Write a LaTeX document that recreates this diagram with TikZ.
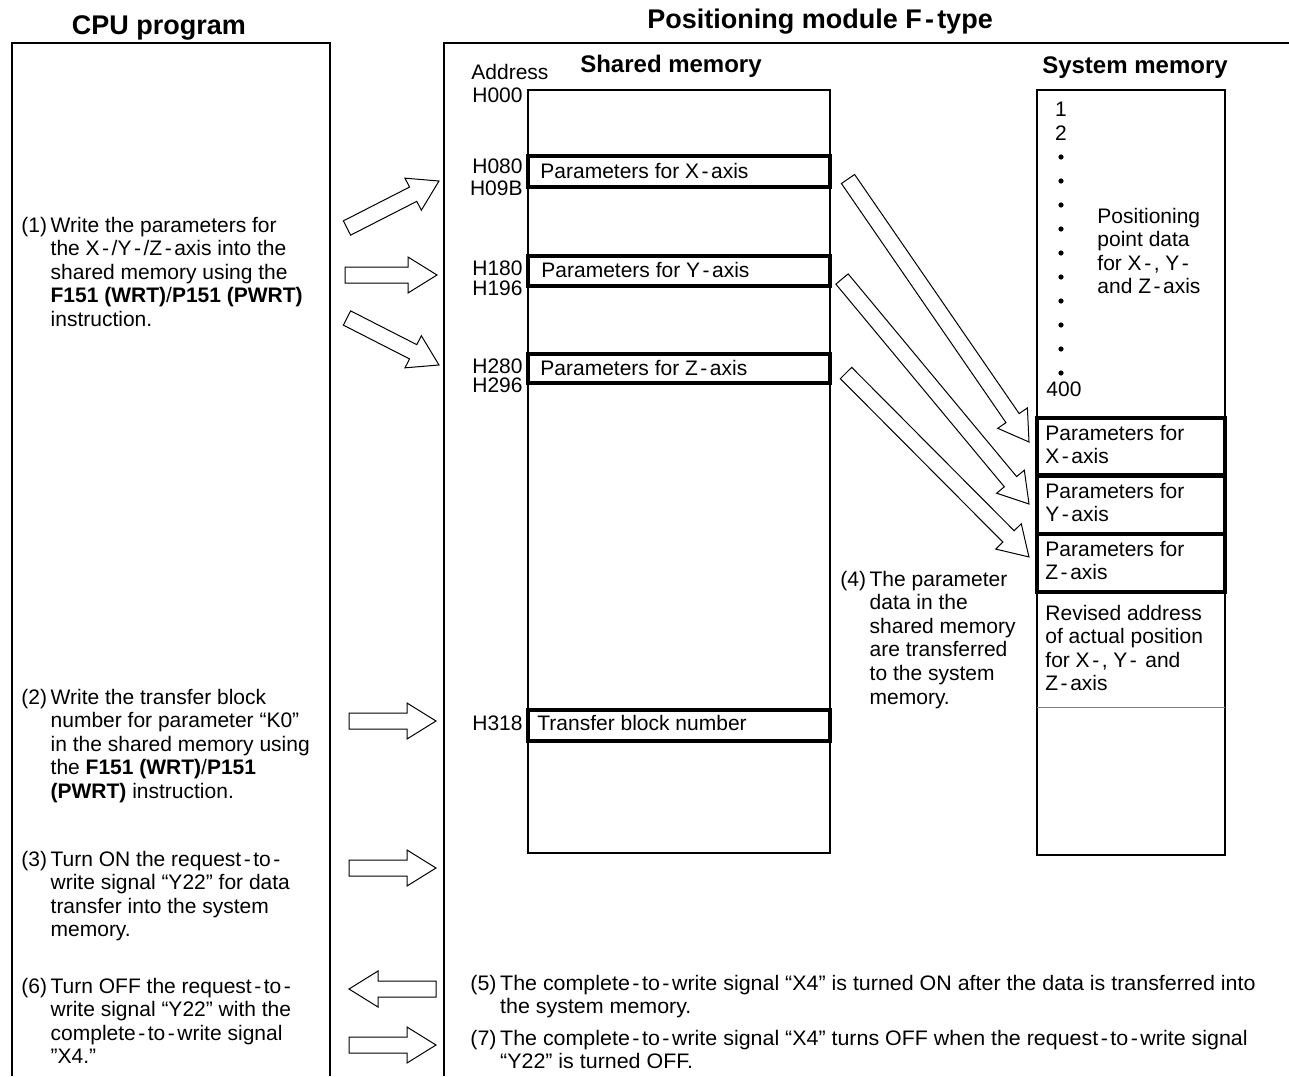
\documentclass[tikz,border=0pt]{standalone}
\usepackage{fontspec}
\setmainfont{Liberation Sans}
\newfontfamily\notefont[FakeStretch=1.02]{Liberation Sans}
\usetikzlibrary{calc,positioning}

% spaced hyphen as in X - axis
\newcommand{\hy}{\kern0.12em-\kern0.12em}
% stacked lines, baseline on the first one
\newcommand{\lines}[1]{\begin{tabular}[t]{@{}l@{}}#1\end{tabular}}
\newcommand{\stepitem}[2]{#1\hspace{1.8pt}\lines{#2}}
% hollow block arrow from #1 to #2
\newcommand{\fatarrow}[2]{%
  \draw[hollow] let \p1=(#1), \p2=(#2),
    \n1={atan2(\y2-\y1,\x2-\x1)}, \n2={veclen(\x2-\x1,\y2-\y1)} in
    [shift={(\p1)}, rotate=\n1]
    (0pt,-4pt) -- ({\n2*1pt-14.5pt},-4pt) -- ({\n2*1pt-14.5pt},-9pt) -- ({\n2*1pt},0pt)
    -- ({\n2*1pt-14.5pt},9pt) -- ({\n2*1pt-14.5pt},4pt) -- (0pt,4pt) -- cycle;}

\begin{document}
\begin{tikzpicture}[x=0.5pt, y=-0.5pt,
txt/.style={inner sep=0pt, font=\fontsize{10.5}{11.8}\selectfont},
headtxt/.style={inner sep=0pt, font=\fontsize{12}{14}\selectfont\bfseries},
titletxt/.style={inner sep=0pt, font=\fontsize{13.5}{16}\selectfont\bfseries},
memframe/.style={draw, line width=1pt},
membar/.style={draw, line width=1.6pt},
hollow/.style={draw, fill=white, line width=0.5pt, line join=miter},
]
\useasboundingbox (0,0) rectangle (1289,1076);

%Titles
\node[titletxt, anchor=base] (cputitle) at (159,34) {CPU program};
\node[titletxt, anchor=base] (fptitle)  at (820,28) {Positioning module F\hy type};
\node[headtxt, anchor=base] (shtitle)  at (671,72) {Shared memory};
\node[headtxt, anchor=base] (sytitle)  at (1135,73) {System memory};

%Frames
\draw[memframe] (12,1076) -- (12,43) -- (330,43) -- (330,1076);
\draw[memframe] (444,1076) -- (444,43) -- (1289,43);

%Shared memory
\draw[memframe] (528,90) rectangle (830,853);
\draw[membar] (528,156) rectangle (830,187);
\draw[membar] (528,256) rectangle (830,286);
\draw[membar] (528,354) rectangle (830,383);
\draw[membar] (528,710) rectangle (830,741);
\node[txt, anchor=base west] (addr) at (471,79) {Address};
\foreach \lab/\yy in {H000/102, H080/173, H09B/195, H180/275, H196/295, H280/373, H296/392, H318/730}
  \node[txt, anchor=base east] at (523,\yy) {\lab};
\node[txt, anchor=base west] (shx) at (540,178) {Parameters for X\hy axis};
\node[txt, anchor=base west] (shy) at (541,277) {Parameters for Y\hy axis};
\node[txt, anchor=base west] (shz) at (540,375) {Parameters for Z\hy axis};
\node[txt, anchor=base west] (shblk) at (537,730) {Transfer block number};

%System memory
\draw[memframe] (1037,90) rectangle (1225,855);
\draw[membar] (1037,418) rectangle (1225,475);
\draw[membar] (1037,476) rectangle (1225,534);
\draw[membar] (1037,534) rectangle (1225,592);
\draw[gray, line width=0.4pt] (1037,707) -- (1225,707);
\node[txt, anchor=base] (pt1) at (1061,116) {1};
\node[txt, anchor=base] (pt2) at (1061,140) {2};
\foreach \yy in {157,181,...,373}
  \fill (1061,\yy) circle (1.3pt);
\node[txt, anchor=base west] (pt400) at (1046,396) {400};
\node[txt, anchor=base west] (ptdata) at (1097,223)
  {\lines{Positioning\\point data\\for X\hy, Y\hy\\and Z\hy axis}};
\node[txt, anchor=base west] (syx) at (1045,440) {\lines{Parameters for\\X\hy axis}};
\node[txt, anchor=base west] (syy) at (1045,498) {\lines{Parameters for\\Y\hy axis}};
\node[txt, anchor=base west] (syz) at (1045,556) {\lines{Parameters for\\Z\hy axis}};
\node[txt, anchor=base west] (syrev) at (1045,620)
  {\lines{Revised address\\of actual position\\for X\hy, Y\hy{} and\\Z\hy axis}};

%Steps
\node[txt, anchor=base west] (step1) at (21,232) {\stepitem{(1)}{Write the parameters for\\the X\hy/Y\hy/Z\hy axis into the\\shared memory using the\\\textbf{F151 (WRT)}/\textbf{P151 (PWRT)}\\instruction.}};
\node[txt, anchor=base west] (step2) at (21,704) {\stepitem{(2)}{Write the transfer block\\number for parameter “K0”\\in the shared memory using\\the \textbf{F151 (WRT)}/\textbf{P151}\\\textbf{(PWRT)} instruction.}};
\node[txt, anchor=base west] (step3) at (21,866) {\stepitem{(3)}{Turn ON the request\hy to\hy\\write signal “Y22” for data\\transfer into the system\\memory.}};
\node[txt, anchor=base west] (step6) at (21,993) {\stepitem{(6)}{Turn OFF the request\hy to\hy\\write signal “Y22” with the\\complete\hy to\hy write signal\\”X4.”}};
\node[txt, anchor=base west] (step4) at (840,586) {\stepitem{(4)}{The parameter\\data in the\\shared memory\\are transferred\\to the system\\memory.}};
\node[txt, anchor=base west] (step5) at (470,990) {\notefont\stepitem{(5)}{The complete\hy to\hy write signal “X4” is turned ON after the data is transferred into\\the system memory.}};
\node[txt, anchor=base west] (step7) at (470,1045) {\notefont\stepitem{(7)}{The complete\hy to\hy write signal “X4” turns OFF when the request\hy to\hy write signal\\“Y22” is turned OFF.}};

%Arrow ends
\coordinate (wx0) at (347,228);  \coordinate (wx1) at (439,181);
\coordinate (wy0) at (345,275);  \coordinate (wy1) at (437,275);
\coordinate (wz0) at (347,318);  \coordinate (wz1) at (439,365);
\coordinate (wb0) at (349,721);  \coordinate (wb1) at (436,721);
\coordinate (on0) at (349,868);  \coordinate (on1) at (436,868);
\coordinate (dn0) at (436,989);  \coordinate (dn1) at (349,989);
\coordinate (of0) at (349,1045); \coordinate (of1) at (436,1045);
\coordinate (tx0) at (848,179);  \coordinate (tx1) at (1029,442);
\coordinate (ty0) at (842,279);  \coordinate (ty1) at (1029,504);
\coordinate (tz0) at (846,373);  \coordinate (tz1) at (1029,557);

%Arrows
\foreach \a/\b in {wx0/wx1, wy0/wy1, wz0/wz1, wb0/wb1, on0/on1, dn0/dn1, of0/of1, tx0/tx1, ty0/ty1, tz0/tz1}
  \fatarrow{\a}{\b};
\end{tikzpicture}
\end{document}
